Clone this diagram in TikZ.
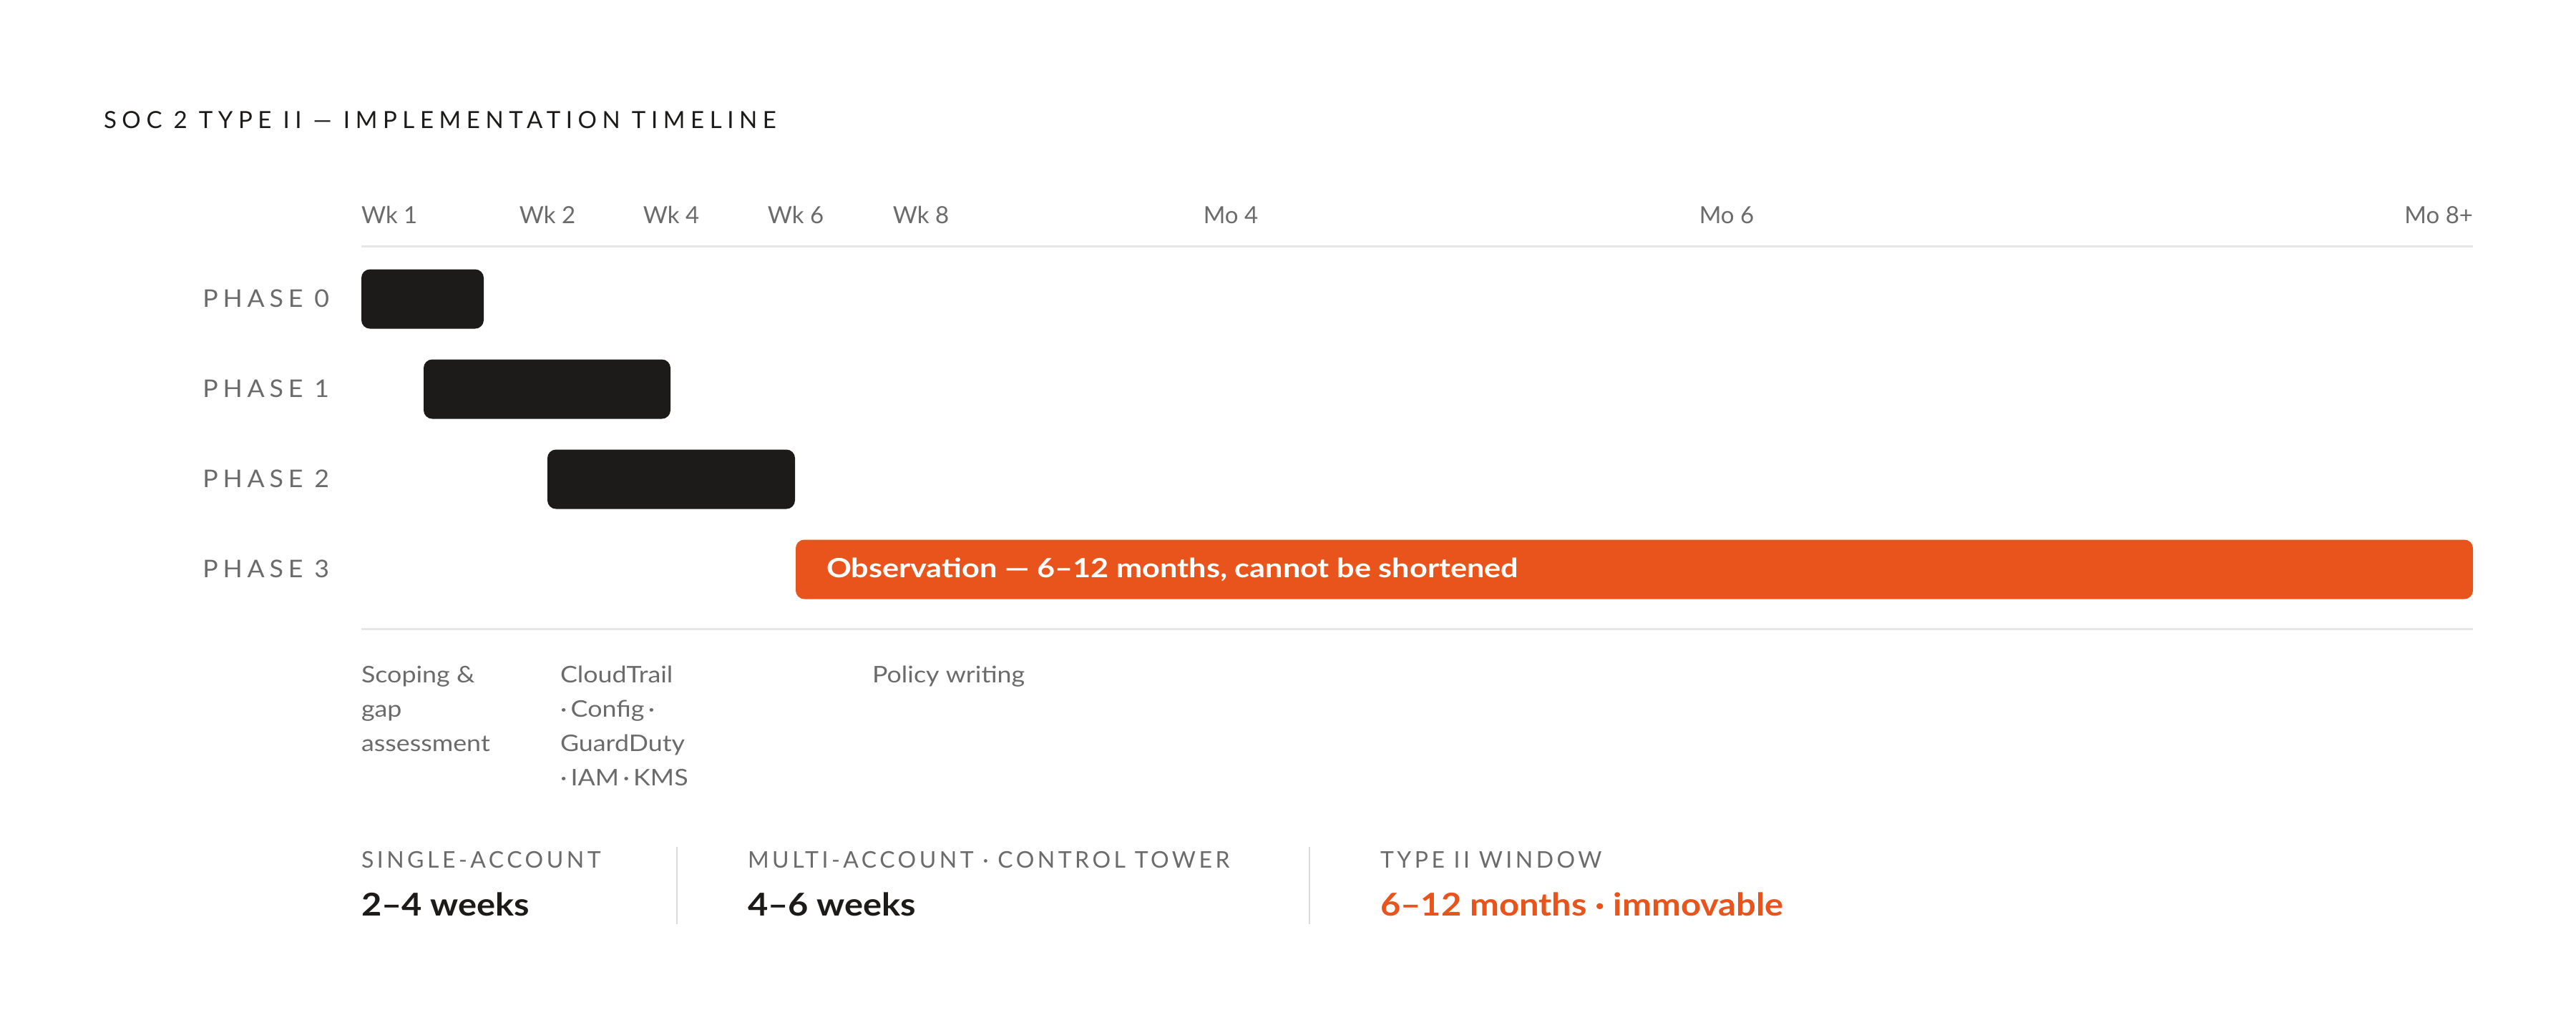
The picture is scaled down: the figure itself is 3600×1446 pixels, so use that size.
\documentclass[tikz,border=0pt]{standalone}
\usepackage{fontspec}
\setmainfont{Lato}
\newfontfamily\titlefont[LetterSpace=23]{Lato}
\newfontfamily\phasefont[LetterSpace=20,FakeStretch=1.05]{Lato}
\newfontfamily\capsfont[LetterSpace=14]{Lato}
\newfontfamily\notefont[FakeStretch=1.12]{Lato}
\newfontfamily\barfont[FakeStretch=1.17]{Lato}
\newfontfamily\valfont[FakeStretch=1.11]{Lato}
\definecolor{ink}{HTML}{1C1B19}
\definecolor{accent}{HTML}{E8541C}
\definecolor{txtgray}{HTML}{6B6B6B}
\definecolor{rule}{HTML}{E6E6E6}
\definecolor{divider}{HTML}{DCDCDC}
\begin{document}
\begin{tikzpicture}[x=1pt,y=-1pt,
  every node/.style={inner sep=0pt, outer sep=0pt},
  title/.style={font=\titlefont\fontsize{33}{40}\selectfont, text=ink, anchor=base west},
  tick/.style={font=\fontsize{33}{40}\selectfont, text=txtgray, anchor=base},
  phaselbl/.style={font=\phasefont\fontsize{34}{40}\selectfont, text=txtgray, anchor=base east},
  darkbar/.style={fill=ink, rounded corners=12pt, minimum height=83pt, anchor=west},
  orangebar/.style={fill=accent, rounded corners=12pt, minimum height=83pt, anchor=west},
  bartext/.style={font=\barfont\bfseries\fontsize{37}{44}\selectfont, text=white, anchor=base west},
  note/.style={font=\notefont\fontsize{32}{48}\selectfont, text=txtgray, anchor=north west, align=left},
  statlbl/.style={font=\capsfont\fontsize{32}{40}\selectfont, text=txtgray, anchor=base west},
  statval/.style={font=\valfont\bfseries\fontsize{44}{50}\selectfont, text=ink, anchor=base west},
  axisrule/.style={draw=rule, line width=3pt},
  sep/.style={draw=divider, line width=2.5pt}]
\useasboundingbox (0,0) rectangle (3600,1446);
\fill[white] (0,0) rectangle (3600,1446);

% title
\node[title] (ttl) at (145,179) {SOC 2 TYPE II — IMPLEMENTATION TIMELINE};

% tick labels
\node[tick, anchor=base west] (t1) at (505,312) {Wk 1};
\node[tick] (t2) at (765,312) {Wk 2};
\node[tick] (t4) at (938,312) {Wk 4};
\node[tick] (t6) at (1112,312) {Wk 6};
\node[tick] (t8) at (1287,312) {Wk 8};
\node[tick] (m4) at (1720,312) {Mo 4};
\node[tick] (m6) at (2413,312) {Mo 6};
\node[tick, anchor=base east] (m8) at (3456,312) {Mo 8+};

% axis rules
\coordinate (topL) at (505,344);
\coordinate (topR) at (3456,344);
\coordinate (botL) at (505,879);
\coordinate (botR) at (3456,879);
\draw[axisrule] (topL) -- (topR);
\draw[axisrule] (botL) -- (botR);

% phase labels
\node[phaselbl] (l0) at (460,429) {PHASE 0};
\node[phaselbl] (l1) at (460,555) {PHASE 1};
\node[phaselbl] (l2) at (460,681) {PHASE 2};
\node[phaselbl] (l3) at (460,807) {PHASE 3};

% bars
\node[darkbar, minimum width=171pt] (b0) at (505,418) {};
\node[darkbar, minimum width=345pt] (b1) at (592,544) {};
\node[darkbar, minimum width=346pt] (b2) at (765,670) {};
\node[orangebar, minimum width=2344pt] (b3) at (1112,796) {};
\node[bartext] (b3t) at (1155,807) {Observation — 6–12 months, cannot be shortened};

% notes
\node[note] (n0) at (505,931) {Scoping \&\\gap\\assessment};
\node[note] (n1) at (783,931) {CloudTrail\\·\,Config\,·\\GuardDuty\\·\,IAM\,·\,KMS};
\node[note] (n2) at (1219,931) {Policy writing};

% stats
\node[statlbl] (s1) at (505,1213) {SINGLE-ACCOUNT};
\node[statval] (v1) at (505,1280) {2–4 weeks};
\coordinate (d1t) at (946,1184);
\coordinate (d1b) at (946,1292);
\draw[sep] (d1t) -- (d1b);
\node[statlbl] (s2) at (1045,1213) {MULTI-ACCOUNT · CONTROL TOWER};
\node[statval] (v2) at (1045,1280) {4–6 weeks};
\coordinate (d2t) at (1830,1184);
\coordinate (d2b) at (1830,1292);
\draw[sep] (d2t) -- (d2b);
\node[statlbl] (s3) at (1929,1213) {TYPE II WINDOW};
\node[statval, text=accent] (v3) at (1929,1280) {6–12 months · immovable};
\end{tikzpicture}
\end{document}
